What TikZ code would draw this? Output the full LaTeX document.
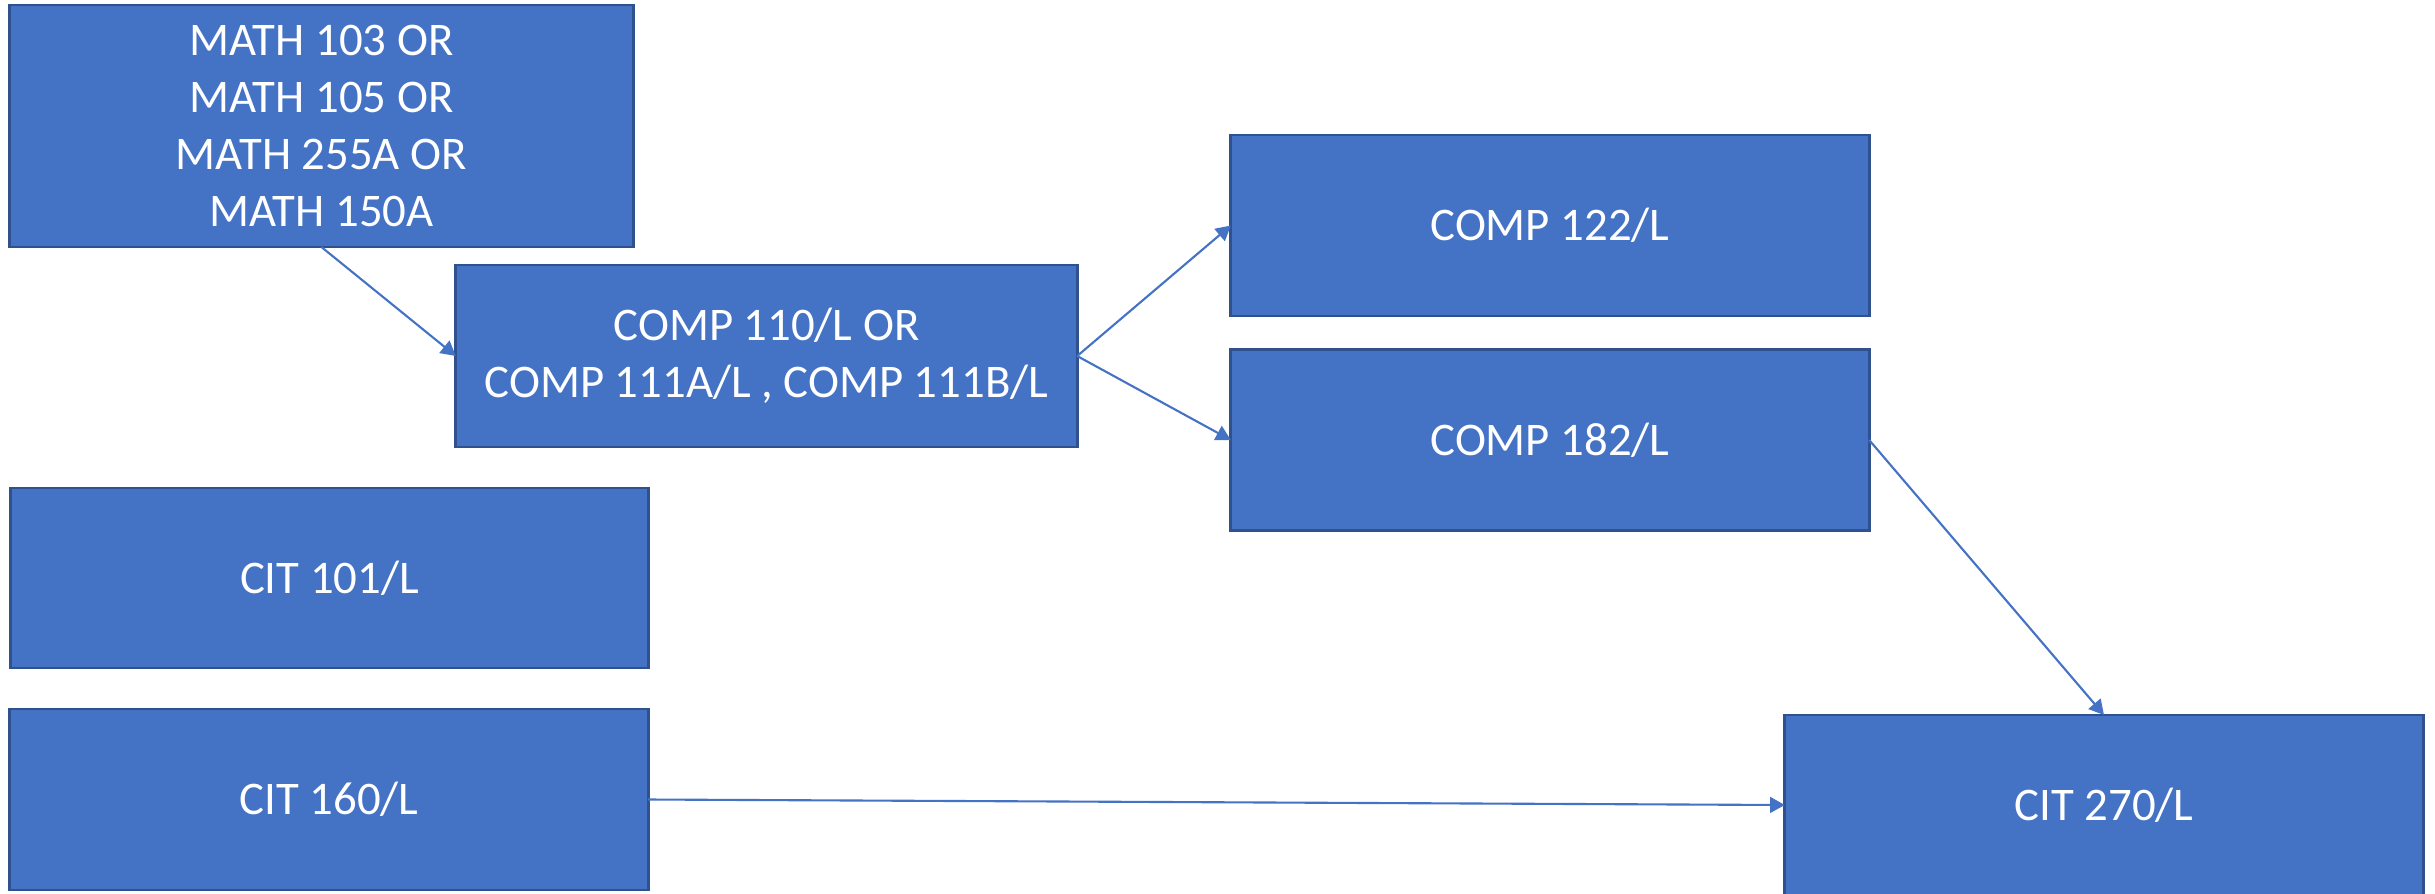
\documentclass[tikz,border=0pt]{standalone}
\usepackage{fontspec}
\setmainfont{Carlito}
\usetikzlibrary{arrows.meta}
\definecolor{boxblue}{HTML}{4472C4}
\definecolor{boxedge}{HTML}{2F528F}

\begin{document}
\begin{tikzpicture}
  [x=0.01cm,y=-0.01cm,every node/.style={rectangle,draw=boxedge,line width=0.8pt,fill=boxblue,text=white,align=center,inner sep=0pt,outer sep=0pt,minimum width=6.38cm,minimum height=1.81cm,font=\fontsize{13.3}{16.2}\selectfont}]
  \useasboundingbox (0,0) rectangle (2435,893);
  \node (math) at (321.5,126) [minimum width=6.23cm,minimum height=2.42cm] {MATH 103 OR\\MATH 105 OR\\MATH 255A OR\\MATH 150A};
  \node (c110) at (766.5,356) [minimum width=6.21cm,minimum height=1.82cm] {COMP 110/L OR\\COMP 111A/L , COMP 111B/L};
  \node (c122) at (1550,225.5) {COMP 122/L};
  \node (c182) at (1550,440) {COMP 182/L};
  \node (cit101) at (329.5,578) [minimum width=6.37cm,minimum height=1.80cm] {CIT 101/L};
  \node (cit160) at (329,799.5) {CIT 160/L};
  \node (cit270) at (2104,805) [minimum height=1.80cm] {CIT 270/L};
  \foreach \from/\to in {math.south/c110.west,c110.east/c122.west,c110.east/c182.west,c182.east/cit270.north,cit160.east/cit270.west}
  \draw[boxblue,line width=0.6pt,-{Triangle[length=4.2pt,width=4.5pt]}] (\from) -- (\to);
\end{tikzpicture}
\end{document}
